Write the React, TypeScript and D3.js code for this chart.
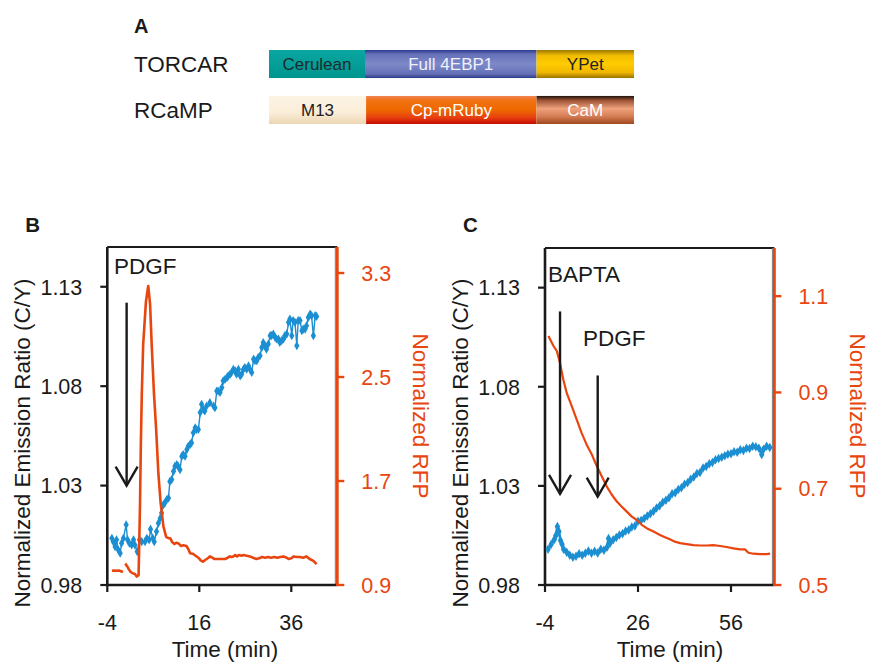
import React from "react";
import * as d3 from "d3";

// panel A: construct diagrams
const constructs = ["TORCAR", "RCaMP"];
const domainNames = [
  ["Cerulean", "Full 4EBP1", "YPet"],
  ["M13", "Cp-mRuby", "CaM"],
];
const domainLengths = [
  [26.3, 47.0, 26.7],
  [26.6, 46.7, 26.7],
];

// panel B: TORCAR ratio (C/Y) and RFP, PDGF at t=0
const bTimeTicks = [-4, 16, 36];
const ratioTicks = [0.98, 1.03, 1.08, 1.13];
const bRfpTicks = [0.9, 1.7, 2.5, 3.3];
const bRatio: [number, number][] = [
  [-3.0, 1.0035], [-2.7, 1.0018], [-2.3, 0.9993], [-2.0, 1.0027], [-1.6, 0.9976], [-1.2, 0.996],
  [-0.9, 1.001], [-0.5, 1.0035], [0.1, 1.0103], [0.4, 1.0027], [0.8, 1.001], [1.3, 1.0001],
  [1.7, 1.0027], [2.0, 1.0001], [2.5, 0.9968], [3.0, 1.0027], [3.5, 1.0018], [4.2, 1.0018],
  [4.6, 1.0035], [5.1, 1.0027], [5.4, 1.0081], [5.9, 1.0035], [6.2, 1.0018], [6.7, 1.0069],
  [7.1, 1.0111], [7.5, 1.0136], [7.8, 1.0162], [8.2, 1.0204], [8.5, 1.0212], [8.9, 1.0229],
  [9.3, 1.0237], [9.6, 1.0321], [10.0, 1.033], [10.4, 1.0372], [10.7, 1.0397], [11.1, 1.0406],
  [11.4, 1.0397], [11.8, 1.038], [12.2, 1.0448], [12.5, 1.0456], [12.9, 1.0448], [13.3, 1.0481],
  [13.6, 1.0498], [14.0, 1.0507], [14.3, 1.0515], [14.7, 1.0566], [15.1, 1.0591], [15.4, 1.0582],
  [15.8, 1.0582], [16.2, 1.0667], [16.5, 1.0709], [16.9, 1.0683], [17.2, 1.0675], [17.6, 1.07],
  [18.3, 1.0717], [19.1, 1.07], [19.4, 1.0692], [19.8, 1.0776], [20.1, 1.0776], [20.5, 1.0768],
  [20.9, 1.0793], [21.2, 1.0827], [21.6, 1.0835], [22.0, 1.0843], [22.3, 1.0852], [22.7, 1.086],
  [23.0, 1.0869], [23.4, 1.0885], [23.8, 1.0877], [24.1, 1.086], [24.5, 1.0885], [24.9, 1.0852],
  [25.2, 1.086], [25.6, 1.0885], [25.9, 1.0894], [26.3, 1.0885], [26.7, 1.0902], [27.0, 1.0885],
  [27.4, 1.0869], [27.8, 1.0936], [28.1, 1.0928], [28.5, 1.0928], [28.8, 1.0944], [29.2, 1.0953],
  [29.6, 1.0995], [29.9, 1.102], [30.3, 1.1003], [30.6, 1.0986], [31.0, 1.1012], [31.4, 1.1054],
  [31.7, 1.1054], [32.1, 1.1062], [32.5, 1.1045], [32.8, 1.1037], [33.2, 1.1037], [33.5, 1.102],
  [33.9, 1.1029], [34.3, 1.1037], [34.6, 1.1054], [35.0, 1.1062], [35.4, 1.1121], [35.7, 1.1138],
  [36.1, 1.1054], [36.4, 1.113], [36.8, 1.1121], [37.2, 1.1003], [37.5, 1.113], [37.9, 1.113],
  [38.3, 1.1079], [38.6, 1.1087], [39.0, 1.1087], [39.3, 1.1104], [39.7, 1.1146], [40.1, 1.1163],
  [40.4, 1.1155], [40.8, 1.1054], [41.2, 1.1155], [41.5, 1.1151],
];
// null = gap in the recording
const bRfp: ([number, number] | null)[] = [
  [-3.0, 1.01], [-2.5, 1.012], [-2.0, 1.01], [-1.5, 1.012], [-1.0, 1.006], [-0.6, 1.0],
  null,
  [-0.1, 1.066], [0.3, 1.045], [0.7, 1.02], [1.1, 1.0], [1.5, 0.99], [2.0, 0.985], [2.4, 0.965],
  [2.8, 0.975], [3.1, 1.5], [3.3, 2.0], [3.5, 2.37], [3.8, 2.75], [4.4, 3.08], [4.9, 3.2],
  [5.3, 3.06], [5.65, 2.75], [6.15, 2.37], [6.6, 2.11], [7.1, 1.76], [7.6, 1.53], [8.2, 1.35],
  [8.8, 1.27], [9.3, 1.26], [9.7, 1.26], [10.1, 1.23], [10.6, 1.215], [11.0, 1.225], [11.5, 1.22],
  [12.0, 1.2], [12.5, 1.205], [13.2, 1.2], [13.7, 1.17], [14.0, 1.145], [14.6, 1.14], [15.2, 1.125],
  [15.8, 1.11], [16.3, 1.09], [16.8, 1.08], [17.2, 1.09], [17.6, 1.1], [18.0, 1.11], [18.3, 1.12],
  [18.8, 1.11], [19.3, 1.1], [20.0, 1.1], [21.0, 1.1], [21.6, 1.1], [22.2, 1.11], [22.6, 1.12],
  [23.0, 1.115], [23.4, 1.12], [23.8, 1.13], [24.2, 1.12], [24.6, 1.13], [25.2, 1.125], [25.6, 1.13],
  [26.3, 1.125], [27.0, 1.12], [27.7, 1.11], [28.4, 1.1], [29.0, 1.105], [29.6, 1.115], [30.3, 1.11],
  [30.9, 1.115], [31.6, 1.11], [32.3, 1.115], [33.0, 1.11], [33.6, 1.115], [34.3, 1.12], [35.0, 1.11],
  [35.4, 1.1], [36.0, 1.105], [36.5, 1.12], [37.2, 1.115], [37.9, 1.115], [38.6, 1.11], [39.3, 1.12],
  [40.0, 1.1], [40.8, 1.085], [41.5, 1.06],
];

// panel C: BAPTA pretreatment, then PDGF
const cTimeTicks = [-4, 26, 56];
const cRfpTicks = [0.5, 0.7, 0.9, 1.1];
const cRatio: [number, number][] = [
  [-3, 0.998], [-2, 1.0005], [-1, 1.003], [-0.5, 1.005], [0, 1.0095], [0.5, 1.007], [1, 1.0025],
  [1.5, 1.0005], [2, 0.998], [3, 0.9965], [4, 0.995], [5, 0.994], [6, 0.9945], [7, 0.9958],
  [8, 0.995], [9, 0.996], [10, 0.9972], [11, 0.996], [12, 0.997], [13, 0.9962], [14, 0.998],
  [15, 0.9975], [16, 0.999], [16.5, 1.0035], [17, 1.001], [18, 1.0028], [19, 1.004], [20, 1.0052],
  [21, 1.0058], [22, 1.0072], [23, 1.0078], [24, 1.0092], [25, 1.0098], [26, 1.0122], [27, 1.0126],
  [28, 1.0135], [29, 1.0148], [30, 1.016], [31, 1.0172], [32, 1.0188], [33, 1.02], [34, 1.0218],
  [35, 1.0228], [36, 1.024], [37, 1.026], [38, 1.0265], [39, 1.0282], [40, 1.029], [41, 1.0308],
  [42, 1.0316], [43, 1.0334], [44, 1.0345], [45, 1.0362], [46, 1.0368], [47, 1.039], [48, 1.0398],
  [49, 1.0412], [50, 1.0418], [51, 1.0432], [52, 1.0438], [53, 1.0445], [54, 1.0452], [55, 1.046],
  [56, 1.0462], [57, 1.0472], [58, 1.047], [59, 1.0482], [60, 1.0478], [61, 1.049], [62, 1.0488],
  [63, 1.05], [64, 1.0498], [65, 1.049], [65.9, 1.0458], [66.5, 1.0485], [67.5, 1.05], [68.5, 1.0494],
];
const cRfp: [number, number][] = [
  [-2.9, 1.017], [-1.3, 0.997], [-0.2, 0.986], [0.8, 0.962], [1.9, 0.927], [3.0, 0.899],
  [4.6, 0.872], [6.2, 0.844], [7.8, 0.816], [9.4, 0.792], [11.1, 0.771], [12.7, 0.747],
  [14.3, 0.726], [15.9, 0.705], [17.5, 0.688], [19.1, 0.674], [20.7, 0.663], [22.3, 0.653],
  [24.0, 0.642], [25.6, 0.635], [27.2, 0.625], [28.8, 0.618], [31.0, 0.611], [33.1, 0.604],
  [34.7, 0.599], [36.3, 0.595], [37.9, 0.59], [39.6, 0.587], [41.7, 0.585], [43.9, 0.583],
  [46.0, 0.582], [48.2, 0.582], [50.3, 0.583], [52.5, 0.581], [54.6, 0.579], [56.8, 0.576],
  [58.9, 0.574], [60.5, 0.574], [61.6, 0.567], [63.2, 0.565], [65.4, 0.564], [67.5, 0.564], [68.6, 0.565],
];

const font = "'Liberation Sans', Arial, sans-serif";
const blue = "#1b8fd2";
const red = "#e8450f";
const ink = "#1a1a1a";

const gradients: Record<string, [number, string][]> = {
  Cerulean: [[0, "#0aa6a1"], [1, "#00958f"]],
  "Full 4EBP1": [[0, "#2c3a8a"], [0.15, "#6571b8"], [0.5, "#7e89c9"], [0.85, "#6571b8"], [1, "#2c3a88"]],
  YPet: [[0, "#9c7800"], [0.2, "#f2bd00"], [0.5, "#ffcb00"], [0.8, "#f0b700"], [1, "#997300"]],
  M13: [[0, "#fdf4e5"], [0.6, "#fbedd8"], [1, "#ebd6b2"]],
  "Cp-mRuby": [[0, "#f08458"], [0.15, "#f07212"], [0.5, "#ee6800"], [0.78, "#e63e10"], [1, "#c40a00"]],
  CaM: [[0, "#1e130e"], [0.15, "#9a5032"], [0.45, "#eea27c"], [0.72, "#d67e56"], [1, "#9e4820"]],
};
const labelColors: Record<string, string> = {
  Cerulean: "#1c2b2b", "Full 4EBP1": "#eef0fa", YPet: "#222", M13: "#222", "Cp-mRuby": "#fff", CaM: "#fff",
};

function Constructs() {
  const x = d3.scaleLinear().domain([0, 100]).range([269, 634]);
  const y = d3.scaleBand().domain(constructs).range([50, 124]).paddingInner(0.39);
  return (
    <g>
      <text x={134} y={33} fontSize={20} fontWeight="bold" fill={ink}>A</text>
      {constructs.map((c, i) => {
        const starts = d3.cumsum([0, ...domainLengths[i]]);
        return (
          <g key={c}>
            <text x={134} y={y(c)! + y.bandwidth() / 2} dy="0.35em" fontSize={22.5} fill={ink}>{c}</text>
            {domainNames[i].map((name, j) => {
              const x0 = x(starts[j]);
              const x1 = x(starts[j + 1]);
              return (
                <g key={name}>
                  <rect x={x0} y={y(c)} width={x1 - x0} height={y.bandwidth()} fill={`url(#g${i}${j})`} />
                  <text x={(x0 + x1) / 2} y={y(c)! + y.bandwidth() / 2} dy="0.36em" textAnchor="middle"
                    fontSize={17} fill={labelColors[name]}>{name}</text>
                </g>
              );
            })}
          </g>
        );
      })}
    </g>
  );
}

type Arrow = { t: number; from: number; to: number };
type Note = { text: string; x: number; y: number };

function Panel(props: {
  letter: string; left: number; right: number; top: number; bottom: number;
  tDomain: [number, number]; tTicks: number[]; rfpDomain: [number, number]; rfpTicks: number[];
  ratio: [number, number][]; rfp: ([number, number] | null)[]; arrows: Arrow[]; notes: Note[];
  rfpWidth: number; titleX: number; markerSize: number; ratioWidth: number;
}) {
  const { left, right, top, bottom } = props;
  const x = d3.scaleLinear().domain(props.tDomain).range([left, right]);
  const y = d3.scaleLinear().domain([0.98, 1.15]).range([bottom, top]);
  const yr = d3.scaleLinear().domain(props.rfpDomain).range([bottom, top]);
  const ratioLine = d3.line<[number, number]>().x(d => x(d[0])).y(d => y(d[1]));
  const rfpLine = d3.line<[number, number] | null>()
    .defined(d => d != null)
    .x(d => x(d![0])).y(d => yr(d![1]));
  const marker = d3.symbol(d3.symbolDiamond, props.markerSize)()!;
  return (
    <g fontFamily={font}>
      <text x={left - 82} y={232} fontSize={20.5} fontWeight="bold" fill={ink}>{props.letter}</text>
      {/* frame */}
      <line x1={left} x2={right} y1={top} y2={top} stroke={ink} strokeWidth={2.2} />
      <line x1={right - 2} x2={right - 2} y1={top} y2={bottom} stroke="#777" strokeWidth={1} />
      <line x1={left} x2={left} y1={top} y2={bottom + 1} stroke={ink} strokeWidth={2.6} />
      <line x1={left - 1} x2={right} y1={bottom} y2={bottom} stroke={ink} strokeWidth={2.6} />
      <line x1={right} x2={right} y1={top} y2={bottom + 1} stroke={red} strokeWidth={2.8} />
      {ratioTicks.map(v => (
        <g key={v}>
          <line x1={left - 7} x2={left} y1={y(v)} y2={y(v)} stroke={ink} strokeWidth={2.2} />
          <text x={left - 25} y={y(v)} dy="0.36em" textAnchor="end" fontSize={21.5} fill={ink}>{v.toFixed(2)}</text>
        </g>
      ))}
      {props.rfpTicks.map(v => (
        <g key={v}>
          <line x1={right} x2={right + 7} y1={yr(v)} y2={yr(v)} stroke={red} strokeWidth={2.4} />
          <text x={right + 24} y={yr(v)} dy="0.36em" fontSize={21.5} fill={red}>{v.toFixed(1)}</text>
        </g>
      ))}
      {props.tTicks.map(t => (
        <g key={t}>
          <line x1={x(t)} x2={x(t)} y1={bottom} y2={bottom + 7} stroke={ink} strokeWidth={2.2} />
          <text x={x(t)} y={630} textAnchor="middle" fontSize={21.5} fill={ink}>{String(t)}</text>
        </g>
      ))}
      <text x={props.titleX} y={657} textAnchor="middle" fontSize={22.5} fill={ink}>Time (min)</text>
      <text transform={`translate(${left - 85},443) rotate(-90)`} textAnchor="middle"
        dy="0.36em" fontSize={22.5} fill={ink}>Normalized Emission Ratio (C/Y)</text>
      <text transform={`translate(${right + 84},416) rotate(90)`} textAnchor="middle"
        dy="0.36em" fontSize={22.5} fill={red}>Normalized RFP</text>
      {/* blue ratio trace */}
      <path d={ratioLine(props.ratio)!} fill="none" stroke={blue} strokeWidth={props.ratioWidth} />
      {props.ratio.map((d, i) => (
        <path key={i} d={marker} transform={`translate(${x(d[0])},${y(d[1])})`} fill={blue} />
      ))}
      {/* red RFP trace */}
      <path d={rfpLine(props.rfp)!} fill="none" stroke={red} strokeWidth={props.rfpWidth} strokeLinejoin="round" />
      {props.arrows.map((a, i) => {
        const ax = x(a.t);
        const tip = y(a.to);
        return (
          <g key={i} stroke={ink} strokeWidth={2.4} fill="none">
            <line x1={ax} x2={ax} y1={y(a.from)} y2={tip} />
            <polyline points={`${ax - 11},${tip - 19} ${ax},${tip} ${ax + 11},${tip - 19}`} />
          </g>
        );
      })}
      {props.notes.map(n => (
        <text key={n.text + n.x} x={n.x} y={n.y} fontSize={22.5} fill={ink}>{n.text}</text>
      ))}
    </g>
  );
}

export default function App() {
  const defs = constructs.flatMap((c, i) => domainNames[i].map((name, j) => (
    <linearGradient key={`g${i}${j}`} id={`g${i}${j}`} x1="0" y1="0" x2="0" y2="1">
      {gradients[name].map(([o, col]) => <stop key={o} offset={o} stopColor={col} />)}
    </linearGradient>
  )));
  return (
    <svg width={876} height={663} style={{ position: "absolute", left: 0, top: 0 }} fontFamily={font}>
      <defs>{defs}</defs>
      <rect width={876} height={663} fill="#fff" />
      <Constructs />
      <Panel letter="B" left={107.3} right={337.3} top={247} bottom={585}
        tDomain={[-4, 46]} tTicks={bTimeTicks} rfpDomain={[0.9, 3.5]} rfpTicks={bRfpTicks}
        ratio={bRatio} rfp={bRfp} rfpWidth={2.6} titleX={225} markerSize={24} ratioWidth={1.4}
        arrows={[{ t: 0.2, from: 1.122, to: 1.03 }]}
        notes={[{ text: "PDGF", x: 114, y: 274 }]} />
      <Panel letter="C" left={545} right={774.4} top={248} bottom={585}
        tDomain={[-4, 70]} tTicks={cTimeTicks} rfpDomain={[0.5, 1.2]} rfpTicks={cRfpTicks}
        ratio={cRatio} rfp={cRfp} rfpWidth={2.2} titleX={670} markerSize={26} ratioWidth={2.6}
        arrows={[{ t: 0.85, from: 1.118, to: 1.026 }, { t: 13.0, from: 1.0857, to: 1.0246 }]}
        notes={[{ text: "BAPTA", x: 548, y: 282 }, { text: "PDGF", x: 583, y: 346 }]} />
    </svg>
  );
}
